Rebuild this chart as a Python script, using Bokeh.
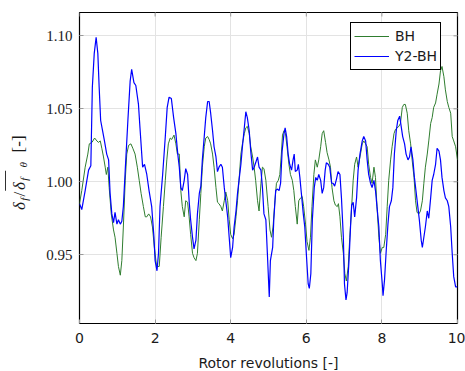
from math import pi
from bokeh.plotting import figure
from bokeh.layouts import row
from bokeh.models import ColumnDataSource, FixedTicker, Legend, LegendItem, Range1d
from bokeh.core.properties import value
from bokeh.embed import file_html
from bokeh.resources import INLINE

# ---------------- data ----------------
bh_x = [0.00, 0.06, 0.15, 0.22, 0.26, 0.33, 0.40, 0.46, 0.50, 0.55, 0.59, 0.635, 0.68, 0.71, 0.75,
        0.785, 0.84, 0.90, 0.94, 0.99, 1.03, 1.08, 1.12, 1.16, 1.21, 1.25, 1.30, 1.36, 1.41, 1.47,
        1.53, 1.58, 1.63, 1.69, 1.74, 1.78, 1.83, 1.88, 1.93, 1.98, 2.04, 2.11, 2.16, 2.22, 2.27,
        2.31, 2.35, 2.40, 2.44, 2.50, 2.55, 2.59, 2.64, 2.68, 2.72, 2.77, 2.81, 2.86, 2.90, 2.94,
        2.99, 3.03, 3.08, 3.12, 3.17, 3.21, 3.25, 3.30, 3.34, 3.39, 3.43, 3.47, 3.52, 3.56, 3.61,
        3.65, 3.69, 3.74, 3.78, 3.83, 3.87, 3.92, 3.96, 4.00, 4.05, 4.09, 4.14, 4.18, 4.22, 4.27,
        4.31, 4.36, 4.40, 4.44, 4.49, 4.53, 4.58, 4.62, 4.66, 4.71, 4.75, 4.80, 4.84, 4.88, 4.93,
        4.99, 5.04, 5.08, 5.12, 5.17, 5.21, 5.26, 5.30, 5.34, 5.37, 5.41, 5.45, 5.49, 5.54, 5.58,
        5.63, 5.67, 5.71, 5.76, 5.80, 5.85, 5.89, 5.93, 5.98, 6.02, 6.07, 6.11, 6.15, 6.20, 6.24,
        6.29, 6.33, 6.38, 6.42, 6.46, 6.51, 6.55, 6.60, 6.64, 6.68, 6.73, 6.77, 6.82, 6.85, 6.89,
        6.93, 6.98, 7.02, 7.06, 7.11, 7.15, 7.20, 7.24, 7.28, 7.33, 7.37, 7.42, 7.48, 7.52, 7.57,
        7.61, 7.65, 7.70, 7.74, 7.79, 7.83, 7.87, 7.92, 7.96, 8.01, 8.05, 8.10, 8.14, 8.18, 8.23,
        8.27, 8.32, 8.36, 8.40, 8.45, 8.49, 8.54, 8.58, 8.62, 8.67, 8.71, 8.76, 8.80, 8.85, 8.89,
        8.93, 8.98, 9.02, 9.07, 9.11, 9.15, 9.20, 9.24, 9.29, 9.33, 9.37, 9.42, 9.46, 9.51, 9.55,
        9.59, 9.64, 9.68, 9.73, 9.77, 9.82, 9.86, 9.90, 9.95, 10.00]
bh_y = [0.985, 0.994, 1.010, 1.019, 1.026, 1.027, 1.030, 1.028, 1.027, 1.028, 1.023, 1.017, 1.010, 1.005, 1.010,
        0.996, 0.978, 0.967, 0.962, 0.951, 0.942, 0.936, 0.946, 0.969, 1.001, 1.019, 1.025, 1.026, 1.023, 1.019,
        1.010, 1.001, 0.992, 0.983, 0.976, 0.976, 0.978, 0.976, 0.969, 0.955, 0.942, 0.942, 0.962, 0.983, 1.001,
        1.015, 1.026, 1.030, 1.029, 1.032, 1.026, 1.019, 1.019, 0.994, 0.983, 0.976, 0.987, 0.986, 0.976, 0.964,
        0.951, 0.948, 0.946, 0.951, 0.974, 0.992, 1.010, 1.024, 1.030, 1.031, 1.029, 1.026, 1.019, 1.010, 0.996,
        0.986, 0.985, 0.983, 0.980, 0.987, 0.993, 0.987, 0.974, 0.964, 0.961, 0.964, 0.976, 0.987, 1.001, 1.019,
        1.026, 1.033, 1.037, 1.038, 1.033, 1.024, 1.017, 1.010, 1.001, 0.987, 0.980, 0.999, 1.010, 1.009, 1.001,
        0.983, 0.967, 0.962, 0.969, 0.987, 0.999, 1.001, 1.005, 1.019, 1.032, 1.035, 1.033, 1.024, 1.012, 1.005,
        1.001, 0.994, 0.983, 0.971, 0.987, 0.989, 0.990, 0.983, 0.971, 0.959, 0.953, 0.962, 0.983, 1.005, 1.015,
        1.010, 1.015, 1.024, 1.033, 1.035, 1.027, 1.020, 1.015, 1.010, 0.996, 0.987, 0.984, 0.983, 0.985, 0.976,
        0.962, 0.951, 0.937, 0.932, 0.942, 0.962, 0.983, 1.001, 1.012, 1.017, 1.010, 1.017, 1.026, 1.028, 1.026,
        1.024, 1.012, 1.003, 0.999, 1.010, 1.003, 0.983, 0.962, 0.951, 0.955, 0.955, 0.964, 0.983, 1.001, 1.015,
        1.024, 1.033, 1.036, 1.037, 1.038, 1.040, 1.051, 1.053, 1.053, 1.047, 1.035, 1.026, 1.015, 1.003, 0.987,
        0.979, 0.978, 0.980, 0.987, 0.999, 1.010, 1.019, 1.028, 1.040, 1.044, 1.051, 1.054, 1.060, 1.067, 1.076,
        1.079, 1.072, 1.063, 1.055, 1.051, 1.047, 1.031, 1.028, 1.024, 1.015]

y2bh_x = [0.00, 0.06, 0.15, 0.24, 0.30, 0.34, 0.39, 0.44, 0.485, 0.52, 0.56, 0.61, 0.66, 0.72, 0.77,
          0.81, 0.855, 0.90, 0.94, 0.99, 1.03, 1.08, 1.12, 1.16, 1.21, 1.28, 1.34, 1.38, 1.44, 1.49,
          1.56, 1.60, 1.67, 1.72, 1.78, 1.84, 1.91, 1.97, 2.00, 2.05, 2.09, 2.13, 2.20, 2.27, 2.32,
          2.37, 2.43, 2.49, 2.55, 2.60, 2.64, 2.68, 2.72, 2.77, 2.81, 2.86, 2.90, 2.94, 2.99, 3.03,
          3.08, 3.12, 3.17, 3.21, 3.25, 3.30, 3.34, 3.39, 3.43, 3.47, 3.52, 3.56, 3.61, 3.65, 3.69,
          3.74, 3.78, 3.83, 3.87, 3.92, 3.96, 4.00, 4.05, 4.09, 4.14, 4.18, 4.22, 4.27, 4.31, 4.36,
          4.40, 4.44, 4.49, 4.53, 4.58, 4.62, 4.66, 4.71, 4.75, 4.80, 4.84, 4.88, 4.93, 4.97, 5.02,
          5.05, 5.11, 5.14, 5.19, 5.23, 5.28, 5.32, 5.36, 5.41, 5.44, 5.48, 5.52, 5.56, 5.61, 5.65,
          5.68, 5.71, 5.76, 5.79, 5.83, 5.87, 5.92, 5.96, 6.00, 6.05, 6.08, 6.12, 6.16, 6.21, 6.25,
          6.29, 6.33, 6.38, 6.42, 6.46, 6.50, 6.53, 6.58, 6.62, 6.67, 6.71, 6.75, 6.80, 6.84, 6.89,
          6.93, 6.98, 7.01, 7.05, 7.08, 7.13, 7.17, 7.20, 7.24, 7.28, 7.33, 7.37, 7.42, 7.48, 7.52,
          7.57, 7.61, 7.65, 7.70, 7.74, 7.79, 7.83, 7.87, 7.92, 7.96, 8.01, 8.03, 8.07, 8.11, 8.16,
          8.20, 8.25, 8.29, 8.33, 8.38, 8.42, 8.47, 8.51, 8.55, 8.60, 8.64, 8.69, 8.73, 8.77, 8.82,
          8.86, 8.91, 8.95, 8.99, 9.04, 9.07, 9.11, 9.15, 9.20, 9.24, 9.29, 9.33, 9.37, 9.42, 9.46,
          9.51, 9.55, 9.59, 9.64, 9.68, 9.73, 9.77, 9.82, 9.86, 9.90, 9.95, 10.00]
y2bh_y = [0.985, 0.981, 0.994, 1.008, 1.011, 1.065, 1.088, 1.099, 1.088, 1.065, 1.042, 1.035, 1.028, 1.019, 1.015,
          0.992, 0.978, 0.972, 0.979, 0.971, 0.974, 0.971, 0.973, 0.983, 1.008, 1.042, 1.069, 1.077, 1.068, 1.066,
          1.053, 1.037, 1.010, 1.012, 1.005, 0.994, 0.983, 0.962, 0.946, 0.939, 0.951, 0.983, 1.005, 1.031, 1.051,
          1.058, 1.057, 1.044, 1.033, 1.019, 1.010, 0.996, 0.994, 1.001, 1.009, 1.005, 0.987, 0.974, 0.962, 0.954,
          0.960, 0.978, 0.992, 0.997, 1.015, 1.031, 1.044, 1.055, 1.055, 1.047, 1.035, 1.024, 1.017, 1.007, 1.010,
          1.012, 1.010, 0.996, 0.987, 0.976, 0.962, 0.948, 0.955, 0.969, 0.980, 0.992, 1.001, 1.012, 1.024, 1.037,
          1.048, 1.044, 1.035, 1.021, 1.008, 1.010, 1.013, 1.017, 1.010, 1.008, 0.996, 0.978, 0.974, 0.951, 0.921,
          0.946, 0.955, 0.974, 0.994, 0.995, 0.994, 0.999, 1.021, 1.033, 1.037, 1.031, 1.019, 1.012, 1.008, 1.015,
          1.019, 1.007, 1.008, 1.012, 1.003, 0.992, 0.978, 0.969, 0.951, 0.930, 0.927, 0.937, 0.974, 0.996, 1.003,
          1.001, 1.005, 1.001, 0.992, 0.996, 1.008, 1.013, 1.012, 1.010, 0.999, 0.999, 0.997, 1.002, 1.007, 1.005,
          0.989, 0.962, 0.930, 0.919, 0.924, 0.946, 0.969, 0.984, 0.986, 0.976, 0.989, 1.008, 1.019, 1.028, 1.031,
          1.028, 1.015, 1.005, 0.999, 0.996, 1.001, 0.994, 0.983, 0.969, 0.946, 0.930, 0.922, 0.933, 0.951, 0.971,
          0.983, 0.987, 0.996, 1.019, 1.035, 1.042, 1.045, 1.038, 1.031, 1.026, 1.019, 1.015, 1.017, 1.024, 1.015,
          1.003, 0.992, 0.983, 0.974, 0.960, 0.955, 0.962, 0.969, 0.980, 0.975, 0.989, 1.001, 1.005, 1.012, 1.023,
          1.021, 1.015, 1.003, 0.994, 0.989, 0.987, 0.983, 0.969, 0.951, 0.935, 0.928, 0.928]

series_names = ["BH", "Y2-BH"]
x_ticks = [0, 2, 4, 6, 8, 10]
x_tick_labels = ["0", "2", "4", "6", "8", "10"]
y_ticks = [0.95, 1.00, 1.05, 1.10]
y_tick_labels = ["0.95", "1.00", "1.05", "1.10"]
x_title = "Rotor revolutions [-]"

# ---------------- styling ----------------
GREEN = "#2f7d2f"
BLUE = "#0000ff"
SANS = "DejaVu Sans"
SERIF = "Liberation Serif"
INK = "#1a1a1a"

X0, X1 = 0.0, 10.0
Y0, Y1 = 0.9029, 1.1160
FW, FH = 378, 311
LW = 35          # width of the strip that carries the y-axis title
H = 371

# ---------------- y-axis title strip (pixel coordinates) ----------------
t = figure(width=LW, height=H, output_backend="svg", toolbar_location=None,
           x_range=Range1d(0, LW), y_range=Range1d(0, H),
           x_axis_location=None, y_axis_location=None,
           min_border=0, min_border_left=0, min_border_right=0, min_border_top=0, min_border_bottom=0)
t.outline_line_color = None
t.grid.visible = False
t.background_fill_color = "white"
t.border_fill_color = "white"

# pieces of  δ_f / overline{δ_f}_θ [-]  : (text, baseline x, start y from the top, size, style)
title_pieces = [
    ("δ", 19, 237, "17px", "italic"),
    ("f", 23, 226, "11px", "italic"),
    ("/", 19, 221, "17px", "normal"),
    ("δ", 19, 213, "17px", "italic"),
    ("f", 23, 202, "11px", "italic"),
    ("θ", 22, 186, "11px", "italic"),
    ("[-]", 18, 168, "17px", "normal"),
]
for txt, bx, top_y, fs, st in title_pieces:
    t.text(x=[bx], y=[H - top_y], text=[txt], angle=pi / 2,
           text_font=value(SERIF), text_font_size=value(fs), text_font_style=st,
           text_color=INK, text_align="left", text_baseline="alphabetic")
t.segment(x0=[5], y0=[H - 214], x1=[5], y1=[H - 190], line_color=INK, line_width=0.9)

# ---------------- main plot ----------------
p = figure(width=465 - LW, height=H, frame_width=FW, frame_height=FH,
           output_backend="svg", toolbar_location=None,
           x_range=Range1d(X0, X1), y_range=Range1d(Y0, Y1),
           min_border_left=79 - LW, min_border_right=8, min_border_top=12, min_border_bottom=48)
p.background_fill_color = "white"
p.border_fill_color = "white"
p.outline_line_color = "black"
p.outline_line_width = 1.2
p.outline_line_alpha = 1.0

src_bh = ColumnDataSource(dict(x=bh_x, y=bh_y))
src_y2 = ColumnDataSource(dict(x=y2bh_x, y=y2bh_y))
r_bh = p.line("x", "y", source=src_bh, line_color=GREEN, line_width=1.0)
r_y2 = p.line("x", "y", source=src_y2, line_color=BLUE, line_width=1.2)

xa = p.xaxis[0]
xa.ticker = FixedTicker(ticks=x_ticks)
xa.major_label_overrides = {tk: lb for tk, lb in zip(x_ticks, x_tick_labels)}
xa.axis_label = x_title
xa.axis_label_text_font = SANS
xa.axis_label_text_font_style = "normal"
xa.axis_label_text_font_size = "14px"
xa.axis_label_text_color = INK
xa.axis_label_standoff = 9
xa.major_label_text_font = SANS
xa.major_label_text_font_size = "14px"
xa.major_label_text_color = INK
xa.major_label_standoff = 9

ya = p.yaxis[0]
ya.ticker = FixedTicker(ticks=y_ticks)
ya.major_label_overrides = {tk: lb for tk, lb in zip(y_ticks, y_tick_labels)}
ya.major_label_text_font = SERIF
ya.major_label_text_font_size = "15px"
ya.major_label_text_color = INK
ya.major_label_standoff = 7

for ax in (xa, ya):
    ax.axis_line_color = None
    ax.major_tick_in = 4
    ax.major_tick_out = 0
    ax.major_tick_line_color = "#999999"
    ax.minor_tick_line_color = None

# mirrored tick marks on the top and right frame edges
top_src = ColumnDataSource(dict(x0=x_ticks, y0=[Y1] * len(x_ticks),
                                y1=[Y1 - 4 * (Y1 - Y0) / FH] * len(x_ticks)))
p.segment(x0="x0", y0="y0", x1="x0", y1="y1", source=top_src, line_color="#999999", line_width=1)
right_src = ColumnDataSource(dict(y0=y_ticks, x0=[X1] * len(y_ticks),
                                  x1=[X1 - 4 * (X1 - X0) / FW] * len(y_ticks)))
p.segment(x0="x0", y0="y0", x1="x1", y1="y0", source=right_src, line_color="#999999", line_width=1)

p.xgrid.ticker = FixedTicker(ticks=x_ticks)
p.ygrid.ticker = FixedTicker(ticks=y_ticks)
p.grid.grid_line_color = "#e3e3e3"
p.grid.grid_line_width = 1

legend = Legend(items=[LegendItem(label=series_names[0], renderers=[r_bh]),
                       LegendItem(label=series_names[1], renderers=[r_y2])],
                location=(271, 253), orientation="vertical")
legend.label_text_font = SANS
legend.label_text_font_size = "14px"
legend.label_text_color = INK
legend.border_line_color = "black"
legend.border_line_width = 1.2
legend.border_line_alpha = 1.0
legend.background_fill_color = "white"
legend.background_fill_alpha = 1.0
legend.padding = 3
legend.margin = 0
legend.spacing = 0
legend.glyph_width = 35
legend.glyph_height = 20
legend.label_height = 20
legend.label_standoff = 6
legend.item_background_fill_alpha = 0
p.add_layout(legend, "center")

layout = row(t, p, spacing=0)
open("out.html", "w").write(file_html(layout, INLINE))
